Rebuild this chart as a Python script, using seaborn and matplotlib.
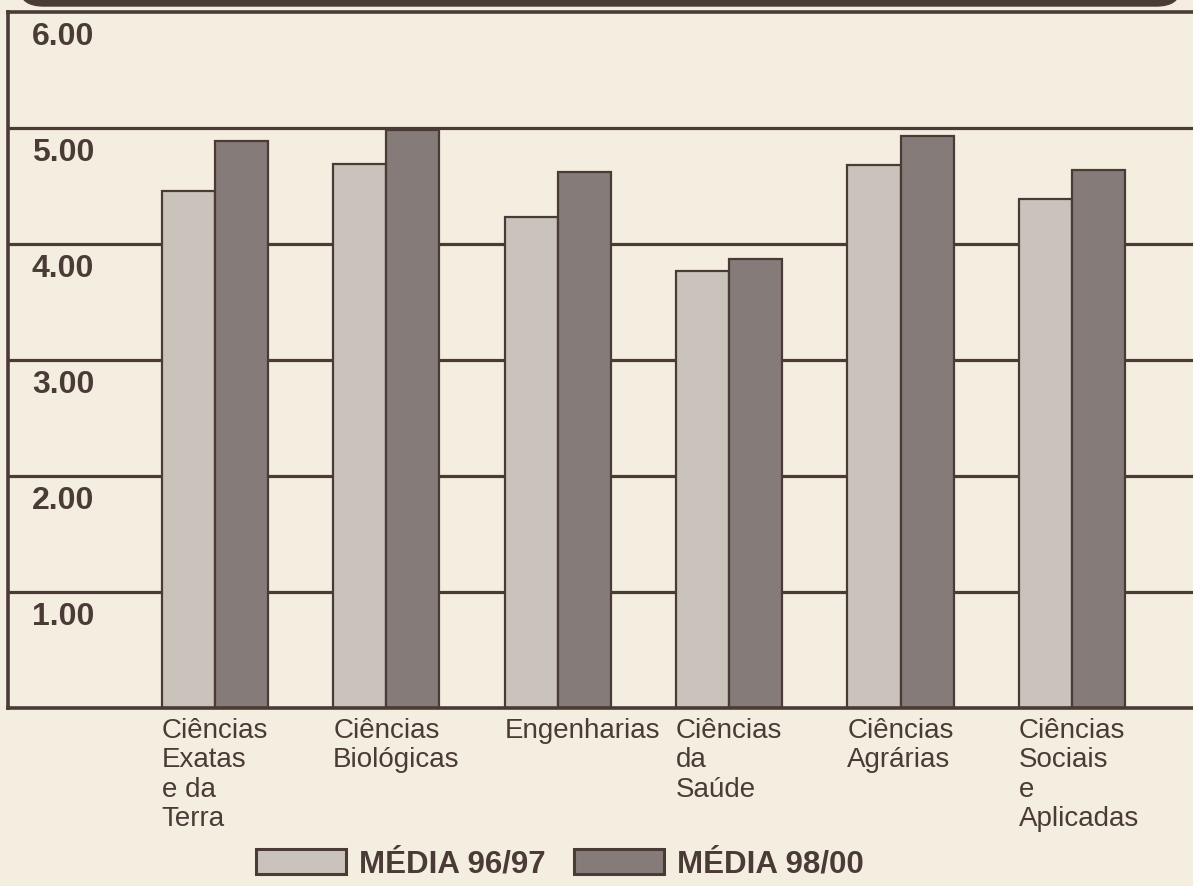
import pandas as pd
import matplotlib.pyplot as plt
import seaborn as sns
from matplotlib.patches import FancyBboxPatch

# dados
areas = ['Ciências\nExatas\ne da\nTerra', 'Ciências\nBiológicas', 'Engenharias',
         'Ciências\nda\nSaúde', 'Ciências\nAgrárias', 'Ciências\nSociais\ne\nAplicadas']
media_96_97 = [4.46, 4.69, 4.23, 3.77, 4.68, 4.39]
media_98_00 = [4.89, 4.98, 4.62, 3.87, 4.93, 4.64]
periodos = ['MÉDIA 96/97', 'MÉDIA 98/00']
y_ticks = [1, 2, 3, 4, 5, 6]

df = pd.DataFrame({
    'area': areas * 2,
    'media': media_96_97 + media_98_00,
    'periodo': [periodos[0]] * len(areas) + [periodos[1]] * len(areas),
})

fundo = '#f4eee0'
tinta = '#4a3b37'
claro = '#cbc3ba'
escuro = '#877a76'

sns.set_style('white')
plt.rcParams['font.family'] = ['Liberation Sans', 'DejaVu Sans']

fig = plt.figure(figsize=(11.93, 8.86), dpi=100, facecolor=fundo)
ax = fig.add_axes([8 / 1193, 1 - 708 / 886, 1185 / 1193 + 0.01, 696 / 886])
ax.set_facecolor(fundo)

# linhas de grade atrás das barras
for v in y_ticks[:-1]:
    ax.axhline(v, color=tinta, lw=2.3, zorder=0)

sns.barplot(data=df, x='area', y='media', hue='periodo', palette=[claro, escuro],
            width=0.62, gap=0, edgecolor=tinta, linewidth=1.6, ax=ax, zorder=2)

ax.set_ylim(0, 6)
ax.set_xlim(-1.207, 5.776)
ax.set_xlabel('')
ax.set_ylabel('')
ax.set_yticks([])

for s in ['left', 'bottom', 'top']:
    ax.spines[s].set_color(tinta)
    ax.spines[s].set_linewidth(2.6)
ax.spines['right'].set_visible(False)

# rótulos do eixo y dentro do gráfico, abaixo de cada linha
for v in y_ticks:
    ax.text(0.02, v - 0.085, f'{v:.2f}', transform=ax.get_yaxis_transform(),
            ha='left', va='top', fontsize=23, fontweight='bold', color=tinta)

ax.set_xticks([i - 0.31 for i in range(len(areas))])
ax.set_xticklabels(areas, ha='left', va='top', fontsize=20, color=tinta,
                   linespacing=1.17)
ax.tick_params(axis='x', length=0, pad=7)

handles, labels = ax.get_legend_handles_labels()
ax.get_legend().remove()
leg = fig.legend(handles, labels, loc='lower center', bbox_to_anchor=(0.469, -0.024),
                 ncol=2, frameon=False, handlelength=2.9, handleheight=0.85,
                 handletextpad=0.4, columnspacing=0.9,
                 prop={'size': 22.5, 'weight': 'bold'})
for t in leg.get_texts():
    t.set_color(tinta)
for h in leg.legend_handles:
    h.set_linewidth(2.2)

# faixa escura do título (cortada no topo)
fig.patches.append(FancyBboxPatch((20 / 1193, 1 - 6 / 886), 1160 / 1193, 0.05,
                                  boxstyle='round,pad=0,rounding_size=0.02',
                                  transform=fig.transFigure, facecolor=tinta,
                                  edgecolor=tinta, zorder=5))

fig.savefig('out.png', dpi=100, facecolor=fundo)
